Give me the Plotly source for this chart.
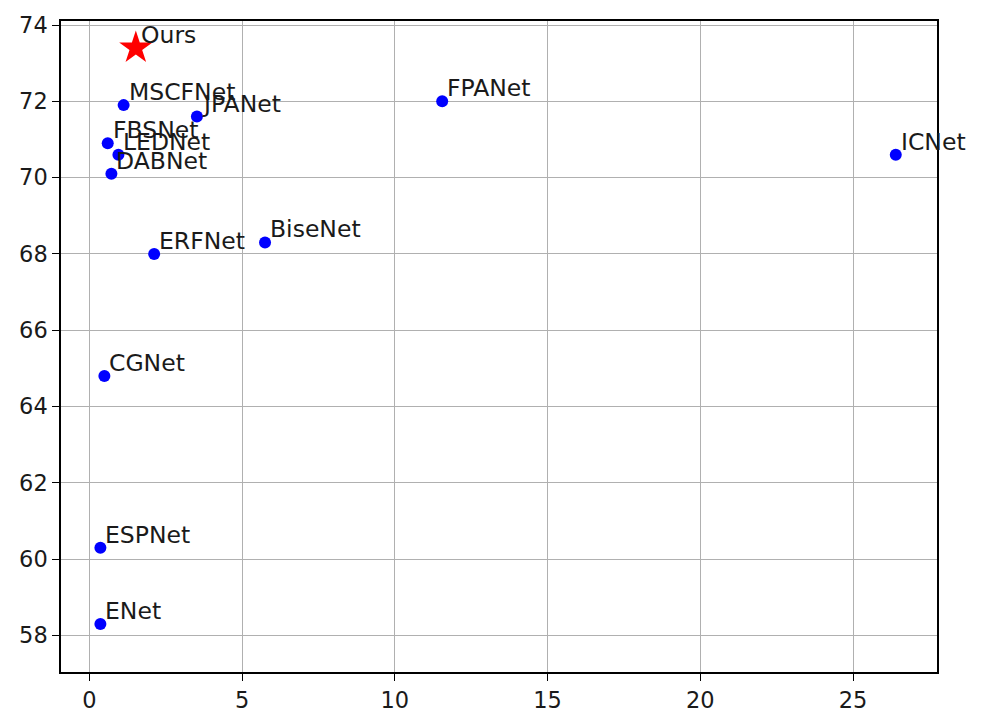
import plotly.graph_objects as go

names = ["ENet", "ESPNet", "CGNet", "ERFNet", "BiseNet", "ICNet", "FPANet",
         "DABNet", "LEDNet", "FBSNet", "MSCFNet", "JPANet"]
params = [0.36, 0.36, 0.49, 2.12, 5.75, 26.4, 11.55, 0.72, 0.95, 0.6, 1.12, 3.52]
miou = [58.3, 60.3, 64.8, 68.0, 68.3, 70.6, 72.0, 70.1, 70.6, 70.9, 71.9, 71.6]

ours_name = "Ours"
ours_params = 1.52
ours_miou = 73.4

x_ticks = [0, 5, 10, 15, 20, 25]
y_ticks = [58, 60, 62, 64, 66, 68, 70, 72, 74]

FONT = "DejaVu Sans"
FS = 23.5
TICK_FS = 22.5

fig = go.Figure()
fig.add_trace(go.Scatter(
    x=params, y=miou, mode="markers",
    marker=dict(color="#0000ff", size=12, line=dict(width=0)),
    showlegend=False, hoverinfo="skip"))
fig.add_trace(go.Scatter(
    x=[ours_params], y=[ours_miou], mode="markers",
    marker=dict(color="#ff0000", symbol="star", size=25, line=dict(width=0)),
    showlegend=False, hoverinfo="skip"))

annotations = []
for n, xv, yv in list(zip(names, params, miou)) + [(ours_name, ours_params, ours_miou)]:
    annotations.append(dict(
        x=xv, y=yv, text=n, showarrow=False, xanchor="left", yanchor="bottom",
        xshift=3, yshift=-3, font=dict(family=FONT, size=FS, color="#1a1a1a")))

axis_common = dict(
    showgrid=True, gridcolor="#b0b0b0", gridwidth=1.2,
    zeroline=False, showline=True, linecolor="black", linewidth=1.5, mirror=True,
    ticks="outside", ticklen=7, tickwidth=1.3, tickcolor="black",
    tickfont=dict(family=FONT, size=TICK_FS, color="#1a1a1a"),
    automargin=False,
)

fig.update_layout(
    width=981, height=712,
    margin=dict(l=61, r=44, t=21, b=40),
    paper_bgcolor="white", plot_bgcolor="white",
    xaxis=dict(range=[-0.93, 27.75], tickvals=x_ticks, **axis_common),
    yaxis=dict(range=[57.04, 74.105], tickvals=y_ticks, **axis_common),
    annotations=annotations,
)

fig.write_html("out.html",
               config={"displayModeBar": False},
               post_script="document.body.style.margin='0';document.body.style.overflow='hidden';")
